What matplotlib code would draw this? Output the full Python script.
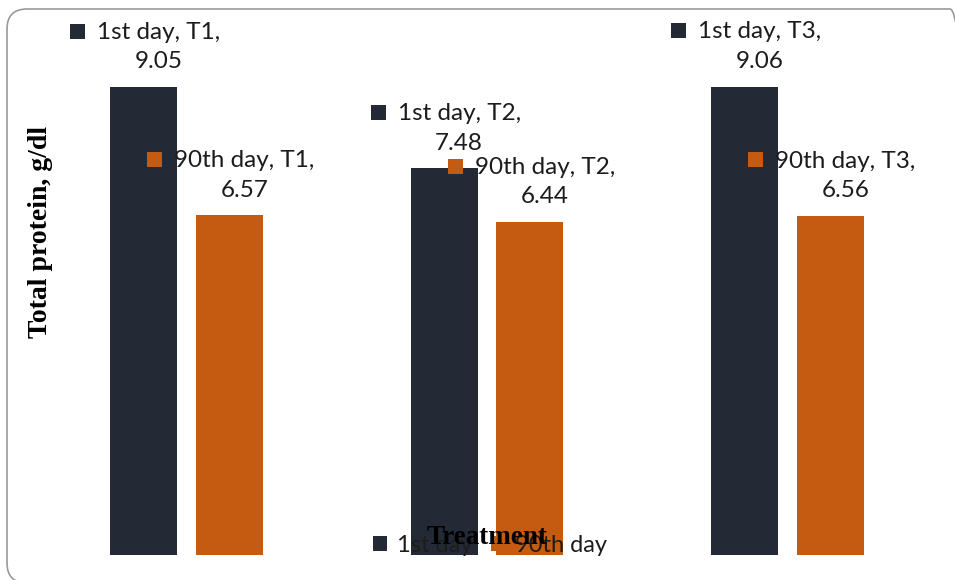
import matplotlib
matplotlib.use("Agg")
import matplotlib.pyplot as plt
from matplotlib.patches import FancyBboxPatch, Rectangle
import numpy as np

# data
treatments = ["T1", "T2", "T3"]
series_names = ["1st day", "90th day"]
first_day = [9.05, 7.48, 9.06]
ninetieth_day = [6.57, 6.44, 6.56]
colors = ["#232a35", "#c55a11"]

plt.rcParams["font.family"] = ["Lato", "DejaVu Sans"]

fig = plt.figure(figsize=(9.55, 5.8), dpi=100)

# rounded outer frame (inches), runs off the right and bottom edges
frame = FancyBboxPatch((0.07, -0.03), 9.63, 5.74,
                       boxstyle="round,pad=0,rounding_size=0.2",
                       transform=fig.dpi_scale_trans, facecolor="none",
                       edgecolor="#9a9a9a", linewidth=1.2, zorder=-1)
fig.patches.append(frame)

ax = fig.add_axes([36.25 / 955, 25 / 580, 901.5 / 955, 517 / 580])
ax.set_facecolor("none")

x = np.arange(len(treatments))
width = 0.223
offset = 0.1425
bars1 = ax.bar(x - offset, first_day, width, color=colors[0], label=series_names[0], zorder=2)
bars2 = ax.bar(x + offset, ninetieth_day, width, color=colors[1], label=series_names[1], zorder=2)

ax.set_xlim(-0.5, 2.5)
ax.set_ylim(0, 10)
for s in ax.spines.values():
    s.set_visible(False)
ax.set_xticks([])
ax.set_yticks([])

# data labels with a colour key square, like the source
text_color = "#1c1c1c"
labels = []
for bars, vals, name, col in [(bars1, first_day, series_names[0], colors[0]),
                              (bars2, ninetieth_day, series_names[1], colors[1])]:
    for b, v, t in zip(bars, vals, treatments):
        cx = b.get_x() + b.get_width() / 2
        txt = ax.annotate(f"{name}, {t},\n{v:.2f}", xy=(cx, v),
                          xytext=(15, 40), textcoords="offset pixels",
                          ha="center", va="center", multialignment="center",
                          fontsize=17.5, color=text_color, linespacing=1.5, zorder=5)
        labels.append((txt, col))

fig.canvas.draw()
renderer = fig.canvas.get_renderer()
for txt, col in labels:
    bb = txt.get_window_extent(renderer)
    sq = 15
    y_first = (bb.y0 + bb.y1) / 2 + 16
    fig.add_artist(Rectangle((bb.x0 - 12 - sq, y_first - sq / 2), sq, sq,
                             transform=None, facecolor=col, edgecolor="none", zorder=6))

# axis titles
fig.text(41 / 955, 1 - 232 / 580, "Total protein, g/dl", rotation=90,
         ha="center", va="center", fontsize=20, fontweight="bold",
         family="Liberation Serif", color="black")

# legend
fig.legend(handles=[bars1, bars2], labels=series_names, loc="center",
           bbox_to_anchor=(490 / 955, 1 - 545 / 580), ncol=2, frameon=False,
           fontsize=17, handlelength=0.6, handleheight=0.6, handletextpad=0.4,
           columnspacing=0.8, labelcolor=text_color)

fig.text(487 / 955, 1 - 538 / 580, "Treatment", ha="center", va="center",
         fontsize=19.5, fontweight="bold", family="Liberation Serif", color="black",
         zorder=10)

fig.savefig("out.png", dpi=100)
